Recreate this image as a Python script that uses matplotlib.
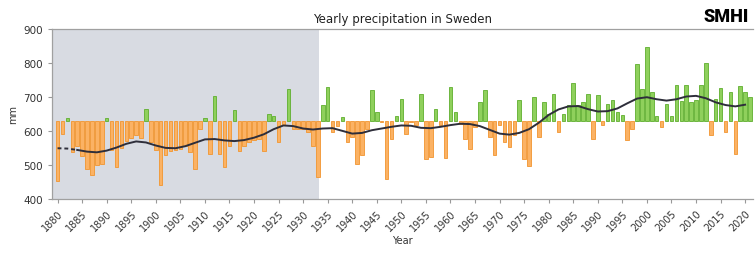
import numpy as np
import matplotlib.pyplot as plt

# Årsnederbörd i Sverige (mm), 1880-2021
years = list(range(1880, 2022))
precip = [
    454, 591, 638, 538, 555, 525, 488, 469, 500, 504,   # 1880-1889
    638, 544, 493, 550, 570, 580, 588, 578, 665, 568,   # 1890-1899
    545, 440, 530, 542, 544, 547, 557, 537, 488, 606,   # 1900-1909
    637, 533, 704, 533, 493, 557, 660, 542, 557, 567,   # 1910-1919
    572, 577, 542, 650, 645, 567, 616, 724, 606, 606,   # 1920-1929
    606, 596, 557, 464, 675, 728, 596, 615, 640, 567,   # 1930-1939
    581, 503, 528, 606, 719, 655, 625, 459, 577, 645,   # 1940-1949
    694, 591, 625, 616, 709, 518, 523, 665, 616, 521,   # 1950-1959
    728, 655, 620, 577, 547, 610, 685, 719, 582, 528,   # 1960-1969
    616, 567, 552, 587, 690, 518, 498, 699, 582, 685,   # 1970-1979
    650, 709, 596, 650, 675, 741, 675, 685, 709, 577,   # 1980-1989
    706, 618, 680, 690, 655, 647, 572, 606, 797, 724,   # 1990-1999
    846, 714, 643, 611, 680, 643, 735, 689, 735, 686,   # 2000-2009
    690, 735, 800, 588, 694, 726, 596, 714, 532, 733,   # 2010-2019
    714, 700,                                           # 2020-2021
]

# Utjämnad kurva (avläst vartannat år)
curve_years = list(range(1880, 2022, 2))
curve = [
    549, 548, 544, 539, 537, 542, 551, 562, 569, 566,
    557, 550, 549, 555, 565, 575, 576, 572, 570, 573,
    580, 590, 605, 616, 614, 607, 604, 607, 608, 600,
    592, 594, 602, 607, 612, 616, 615, 609, 608, 612,
    617, 621, 620, 614, 603, 592, 589, 594, 605, 624,
    647, 663, 672, 673, 664, 657, 658, 666, 681, 695,
    699, 693, 689, 693, 701, 703, 696, 684, 676, 672,
    677,
]

baseline = 630
shade_end = 1933.2

x_ticks = list(range(1880, 2021, 5))
y_ticks = [400, 500, 600, 700, 800, 900]

fig = plt.figure(figsize=(7.56, 2.55), dpi=100)
ax = fig.add_axes([0.069, 0.216, 0.927, 0.667])

# grå bakgrund för den tidiga perioden
ax.axvspan(1878.9, shade_end, color='#d8dbe2', zorder=0, lw=0)

# staplar relativt baslinjen
p = np.array(precip)
diff = p - baseline
fill = np.where(diff >= 0, '#8fd05c', '#fbb264')
edge = np.where(diff >= 0, '#5fae2e', '#f2952f')
ax.bar(years, diff, bottom=baseline, width=0.72, color=fill, edgecolor=edge,
       linewidth=0.6, zorder=2)

# kurvan: streckad i början
cy = np.array(curve_years)
cv = np.array(curve)
ax.plot(cy[cy <= 1884], cv[cy <= 1884], color='#2e2e3a', lw=1.4, ls=(0, (2, 1.5)), zorder=3)
ax.plot(cy[cy >= 1884], cv[cy >= 1884], color='#2e2e3a', lw=1.4, zorder=3)

ax.set_xlim(1878.9, 2021.6)
ax.set_ylim(400, 900)
ax.set_xticks(x_ticks)
ax.set_xticklabels([str(t) for t in x_ticks], rotation=45, ha='right',
                   rotation_mode='anchor', fontsize=7, color='#333333')
ax.set_yticks(y_ticks)
ax.set_yticklabels([str(t) for t in y_ticks], fontsize=7.5, color='#333333')
ax.tick_params(axis='both', length=3, color='#999999', width=0.8)

for side in ['top', 'left', 'bottom']:
    ax.spines[side].set_color('#a0a0a0')
    ax.spines[side].set_linewidth(0.9)
ax.spines['right'].set_visible(False)

ax.set_xlabel('Year', fontsize=7, color='#333333', labelpad=2)
ax.set_ylabel('mm', fontsize=7, color='#333333', labelpad=4)
ax.set_title('Yearly precipitation in Sweden', fontsize=8.5, color='#222222', pad=5)

# logotyp som text
fig.text(0.99, 0.935, 'SMHI', ha='right', va='center', fontsize=13,
         fontweight='black', family=['Roboto', 'DejaVu Sans'],
         fontstretch='condensed', color='black')

fig.savefig('out.png', dpi=100)
